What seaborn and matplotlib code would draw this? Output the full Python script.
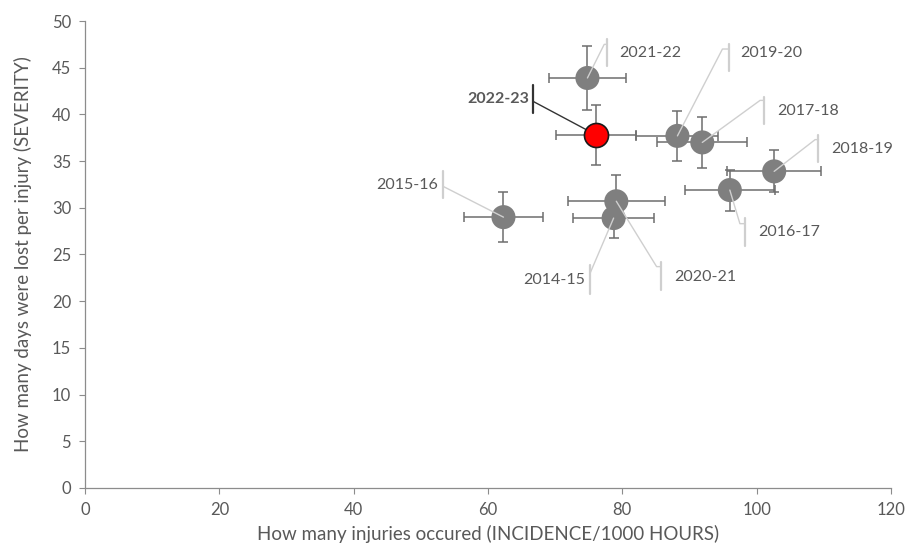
import matplotlib
matplotlib.use('Agg')
import matplotlib.pyplot as plt
import seaborn as sns
import pandas as pd

# season values
seasons = ['2014-15', '2015-16', '2016-17', '2017-18', '2018-19',
           '2019-20', '2020-21', '2021-22', '2022-23']
incidence = [78.7, 62.3, 96.0, 91.9, 102.6, 88.2, 79.1, 74.8, 76.1]
severity = [28.9, 29.0, 31.9, 37.0, 33.9, 37.7, 30.7, 43.9, 37.8]
incidence_err = [6.0, 5.9, 6.7, 6.7, 7.0, 6.1, 7.2, 5.7, 6.0]
severity_err = [2.1, 2.7, 2.2, 2.75, 2.25, 2.7, 2.8, 3.4, 3.25]
current = '2022-23'

x_ticks = [0, 20, 40, 60, 80, 100, 120]
y_ticks = [0, 5, 10, 15, 20, 25, 30, 35, 40, 45, 50]

# callout layout: text x, text y, align, bar x, bar y0, bar y1, elbow x, elbow y
callouts = {
    '2021-22': (79.6, 46.6, 'left', 77.7, 45.2, 48.1, 77.3, 47.5),
    '2019-20': (97.5, 46.6, 'left', 95.9, 44.6, 47.5, 94.9, 47.0),
    '2017-18': (103.1, 40.4, 'left', 101.1, 39.0, 41.9, 100.5, 41.5),
    '2018-19': (111.1, 36.3, 'left', 109.2, 34.9, 37.8, 108.7, 37.3),
    '2016-17': (100.2, 27.4, 'left', 98.3, 25.9, 28.9, 97.5, 28.3),
    '2020-21': (87.7, 22.6, 'left', 85.8, 21.2, 24.2, 85.1, 23.7),
    '2014-15': (74.5, 22.3, 'right', 75.2, 20.8, 23.9, 75.2, 23.0),
    '2015-16': (52.6, 32.4, 'right', 53.3, 31.0, 33.9, 53.3, 32.3),
    '2022-23': (66.2, 41.6, 'right', 66.7, 40.1, 43.1, 66.7, 41.4),
}

df = pd.DataFrame({'season': seasons, 'incidence': incidence, 'severity': severity,
                   'xerr': incidence_err, 'yerr': severity_err})
df['is_current'] = df['season'] == current

sns.set_style('ticks')
plt.rcParams['font.family'] = ['Lato', 'DejaVu Sans']

fig = plt.figure(figsize=(9.07, 5.47), dpi=100)
ax = fig.add_axes([0.0937, 0.1079, 0.8887, 0.8537])

text_col = '#595959'
axis_col = '#8c8c8c'

ax.errorbar(df['incidence'], df['severity'], xerr=df['xerr'], yerr=df['yerr'],
            fmt='none', ecolor='#6e6e6e', elinewidth=1.1, capsize=3.5, capthick=1.1, zorder=2)

sns.scatterplot(data=df[~df['is_current']], x='incidence', y='severity', ax=ax,
                color='#7f7f7f', s=300, edgecolor='none', zorder=3, legend=False)
sns.scatterplot(data=df[df['is_current']], x='incidence', y='severity', ax=ax,
                color='#ff0000', s=300, edgecolor='#1a1a1a', linewidth=1.2, zorder=6, legend=False)

for _, row in df.iterrows():
    tx, ty, ha, bx, bottom, top, ex, ey = callouts[row['season']]
    if row['is_current']:
        lc, weight = '#333333', 'bold'
    else:
        lc, weight = '#cfcfcf', 'normal'
    ax.plot([row['incidence'], ex, bx], [row['severity'], ey, ey], color=lc, lw=1.0, zorder=4)
    ax.plot([bx, bx], [bottom, top], color=lc, lw=1.6, zorder=4)
    ax.text(tx, ty, row['season'], ha=ha, va='center', fontsize=11.5,
            color=text_col, fontweight=weight, zorder=5)

ax.set_xlim(0, 120)
ax.set_ylim(0, 50)
ax.set_xticks(x_ticks)
ax.set_yticks(y_ticks)
ax.tick_params(colors=axis_col, labelcolor=text_col, labelsize=12, length=4, width=0.8, pad=6)
for side in ['top', 'right']:
    ax.spines[side].set_visible(False)
for side in ['left', 'bottom']:
    ax.spines[side].set_color(axis_col)
    ax.spines[side].set_linewidth(0.9)

ax.set_xlabel('How many injuries occured (INCIDENCE/1000 HOURS)', fontsize=13.5, color=text_col, labelpad=5)
ax.set_ylabel('How many days were lost per injury (SEVERITY)', fontsize=13.5, color=text_col, labelpad=14)

fig.savefig('out.png', dpi=100)
